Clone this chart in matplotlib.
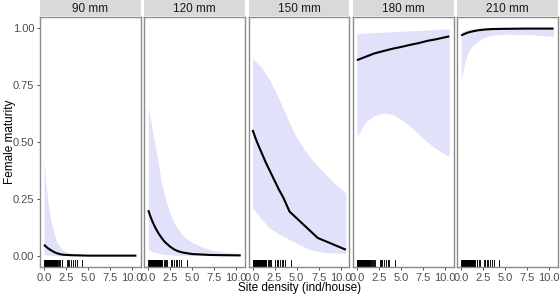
import matplotlib
matplotlib.use("Agg")
import matplotlib.pyplot as plt

plt.rcParams['font.family'] = ['Liberation Sans', 'DejaVu Sans']

# facet titles
sizes = ["90 mm", "120 mm", "150 mm", "180 mm", "210 mm"]

# fitted curves (x, fit, lower, upper)
x90 = [0, 0.25, 0.5, 0.75, 1.0, 1.25, 1.5, 2.0, 2.5, 3, 4, 5, 7.5, 10.5]
fit90 = [0.048, 0.039, 0.031, 0.025, 0.019, 0.014, 0.010, 0.005, 0.003, 0.002, 0.001, 0, 0, 0]
lo90 = [0.004, 0.003, 0.002, 0.001, 0.001, 0, 0, 0, 0, 0, 0, 0, 0, 0]
hi90 = [0.42, 0.31, 0.22, 0.16, 0.12, 0.085, 0.055, 0.03, 0.018, 0.012, 0.007, 0.004, 0.002, 0.001]

x120 = [0, 0.25, 0.5, 0.75, 1, 1.25, 1.5, 1.75, 2, 2.5, 3, 3.5, 4, 5, 6, 7, 8.5, 10.5]
fit120 = [0.20, 0.172, 0.148, 0.127, 0.109, 0.093, 0.079, 0.066, 0.056, 0.039, 0.026,
          0.018, 0.013, 0.007, 0.005, 0.003, 0.002, 0.001]
lo120 = [0.026, 0.022, 0.018, 0.015, 0.012, 0.010, 0.008, 0.006, 0.005, 0.003, 0.002,
         0.0015, 0.001, 0.0005, 0, 0, 0, 0]
hi120 = [0.655, 0.6, 0.54, 0.49, 0.44, 0.38, 0.32, 0.28, 0.24, 0.185, 0.14,
         0.11, 0.085, 0.058, 0.04, 0.026, 0.016, 0.01]

x150_fit = [0, 0.5, 1, 1.5, 2, 2.5, 3, 3.5, 4.2, 7.4, 10.6]
fit150 = [0.553, 0.50, 0.455, 0.41, 0.37, 0.33, 0.29, 0.255, 0.194, 0.078, 0.026]
x150 = [0, 1, 2, 3, 4, 5, 6, 7, 8, 9, 10.6]
lo150 = [0.21, 0.16, 0.12, 0.095, 0.075, 0.055, 0.035, 0.022, 0.015, 0.012, 0.01]
hi150 = [0.867, 0.83, 0.77, 0.69, 0.6, 0.52, 0.46, 0.41, 0.37, 0.33, 0.275]

x180 = [0, 1, 2, 3, 4, 5, 6, 7, 8, 9, 10.5]
fit180 = [0.86, 0.875, 0.89, 0.9, 0.91, 0.918, 0.927, 0.935, 0.945, 0.952, 0.965]
lo180 = [0.52, 0.59, 0.615, 0.627, 0.622, 0.60, 0.57, 0.535, 0.50, 0.47, 0.436]
hi180 = [0.977, 0.979, 0.981, 0.983, 0.985, 0.987, 0.989, 0.991, 0.993, 0.995, 0.998]

x210 = [0, 0.4, 0.8, 1.2, 1.6, 2, 2.7, 3.5, 5, 7.5, 10.5]
fit210 = [0.969, 0.976, 0.982, 0.986, 0.989, 0.992, 0.995, 0.997, 0.998, 0.999, 0.999]
lo210 = [0.77, 0.85, 0.895, 0.918, 0.933, 0.946, 0.962, 0.97, 0.974, 0.973, 0.965]
hi210 = [0.985, 0.992, 0.996, 0.998, 0.999, 1, 1, 1, 1, 1, 1]

# observed site densities (rug)
rug = [0.0, 0.04, 0.08, 0.12, 0.16, 0.2, 0.25, 0.3, 0.34, 0.38, 0.43, 0.48, 0.52,
       0.57, 0.62, 0.66, 0.7, 0.75, 0.8, 0.85, 0.9, 0.95, 1.0, 1.05, 1.1, 1.15,
       1.2, 1.25, 1.3, 1.35, 1.4, 1.45, 1.5, 1.55, 1.75, 1.85, 2.0, 2.1,
       2.6, 2.75, 2.9, 3.1, 3.3, 3.5, 3.7, 4.35]

curves = [
    (x90, fit90, x90, lo90, hi90),
    (x120, fit120, x120, lo120, hi120),
    (x150_fit, fit150, x150, lo150, hi150),
    (x180, fit180, x180, lo180, hi180),
    (x210, fit210, x210, lo210, hi210),
]

W, H = 560, 297
fig = plt.figure(figsize=(W / 100, H / 100), dpi=100)

left0, pw, gap = 40, 100.8, 3.5
ptop, pbot = 17, 267
strip_h = 16

for i, (xf, yf, xr, lo, hi) in enumerate(curves):
    x0 = left0 + i * (pw + gap)
    ax = fig.add_axes([x0 / W, 1 - pbot / H, pw / W, (pbot - ptop) / H])
    ax.fill_between(xr, lo, hi, color='#E1E1FA', lw=0)
    ax.plot(xf, yf, color='black', lw=1.5, solid_capstyle='butt',
            solid_joinstyle='round')
    for r in rug:
        ax.plot([r, r], [0, 0.03], transform=ax.get_xaxis_transform(),
                color='black', lw=0.65)
    ax.set_xlim(-0.45, 11.0)
    ax.set_ylim(-0.05, 1.05)
    ax.set_xticks([0, 2.5, 5, 7.5, 10])
    ax.set_xticklabels(["0.0", "2.5", "5.0", "7.5", "10.0"])
    ax.set_yticks([0, 0.25, 0.5, 0.75, 1.0])
    ax.tick_params(length=2.5, width=0.6, color='#333333', labelsize=8,
                   labelcolor='#4D4D4D', pad=1.5)
    if i > 0:
        ax.tick_params(axis='y', left=False, labelleft=False)
    else:
        ax.set_yticklabels(["0.00", "0.25", "0.50", "0.75", "1.00"])
    for s in ax.spines.values():
        s.set_color('#8C8C8C')
        s.set_linewidth(1.0)

    # facet strip
    sax = fig.add_axes([x0 / W, 1 - strip_h / H, pw / W, strip_h / H])
    sax.set_facecolor('#D9D9D9')
    sax.set_xticks([])
    sax.set_yticks([])
    for s in sax.spines.values():
        s.set_visible(False)
    sax.text(0.5, 0.45, sizes[i], ha='center', va='center', fontsize=8.5,
             color='#1A1A1A', transform=sax.transAxes)

fig.text(4 / W, 1 - 142 / H, "Female maturity", rotation=90, ha='left',
         va='center', fontsize=8.5)
fig.text(300 / W, 1 - 288 / H, "Site density (ind/house)", ha='center',
         va='center', fontsize=8.5)

fig.savefig("out.png", dpi=100)
